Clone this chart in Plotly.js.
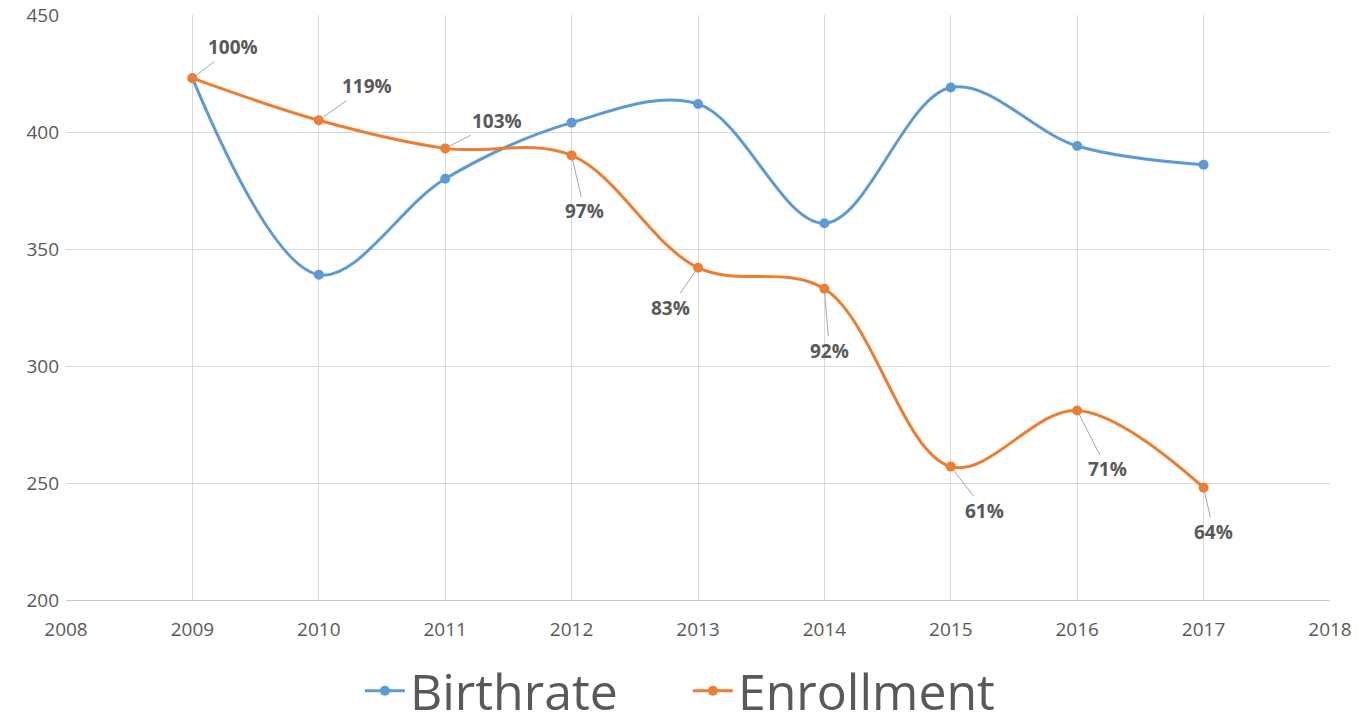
<!DOCTYPE html>
<html>
<head>
<meta charset="utf-8">
<script src="https://cdn.plot.ly/plotly-3.0.1.min.js"></script>
<style>html,body{margin:0;padding:0;background:#fff;}#chart{width:1359px;height:726px;}</style>
</head>
<body>
<div id="chart"></div>
<script>
const years = [2009, 2010, 2011, 2012, 2013, 2014, 2015, 2016, 2017];
const birthrate = [423, 339, 380, 404, 412, 361, 419, 394, 386];
const enrollment = [423, 405, 393, 390, 342, 333, 257, 281, 248];
const ratioLabels = ['100%', '119%', '103%', '97%', '83%', '92%', '61%', '71%', '64%'];

const labelOffsetX = [41, 48, 52, 13, -28, 5, 34, 30, 10];
const labelOffsetY = [-31, -34, -27, 56, 40, 62, 44, 59, 44];

const font = 'Open Sans, Noto Sans, sans-serif';
const traces = [
  {x: years, y: birthrate, name: 'Birthrate', type: 'scatter', mode: 'lines+markers',
   line: {color: '#5B9BD5', width: 3, shape: 'spline', smoothing: 1}, marker: {color: '#5B9BD5', size: 10}},
  {x: years, y: enrollment, name: 'Enrollment', type: 'scatter', mode: 'lines+markers',
   line: {color: '#ED7D31', width: 3, shape: 'spline', smoothing: 1}, marker: {color: '#ED7D31', size: 10}}
];
const annotations = years.map((yr, i) => ({
  x: yr, y: enrollment[i], xref: 'x', yref: 'y', text: '<b>' + ratioLabels[i] + '</b>',
  showarrow: true, arrowhead: 0, arrowwidth: 1, arrowcolor: '#A6A6A6', standoff: 3,
  ax: labelOffsetX[i], ay: labelOffsetY[i],
  font: {family: font, size: 19, color: '#595959'}
}));
const layout = {
  width: 1359, height: 726,
  margin: {l: 66, r: 29, t: 15, b: 126, autoexpand: false},
  paper_bgcolor: '#fff', plot_bgcolor: '#fff',
  font: {family: font, color: '#595959'},
  xaxis: {range: [2008, 2018], dtick: 1, tick0: 2008, showgrid: true, gridcolor: '#D9D9D9', gridwidth: 1,
          zeroline: false, showline: true, linecolor: '#C8C8C8', ticks: '', ticklabelstandoff: 12,
          tickfont: {family: font, size: 19, color: '#595959'}},
  yaxis: {range: [200, 450], dtick: 50, showgrid: true, gridcolor: '#D9D9D9', gridwidth: 1,
          zeroline: false, showline: false, ticks: '', ticklabelstandoff: 6,
          tickfont: {family: font, size: 19, color: '#595959'}},
  showlegend: true,
  legend: {orientation: 'h', x: 0.492, xanchor: 'center', y: -0.155, yanchor: 'middle',
           font: {family: font, size: 50, color: '#595959'}, itemwidth: 40,
           entrywidth: 273, entrywidthmode: 'pixels'},
  annotations: annotations
};
Plotly.newPlot('chart', traces, layout, {displayModeBar: false, staticPlot: true});
</script>
</body>
</html>
